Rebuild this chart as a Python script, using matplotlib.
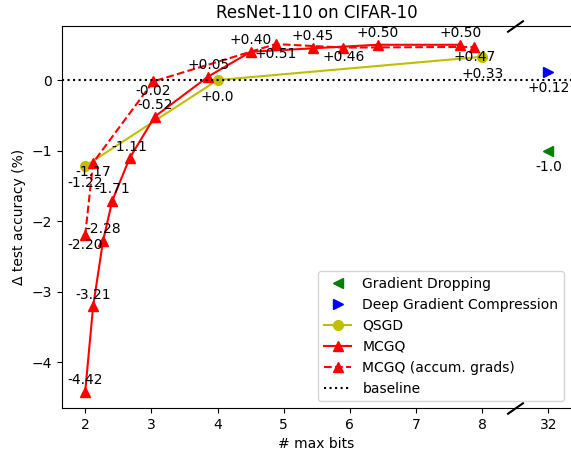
import matplotlib.pyplot as plt

# Data (x = max bits, y = change in test accuracy %)
gd_bits = [32]
gd_acc = [-1.0]
gd_labels = ['-1.0']

dgc_bits = [32]
dgc_acc = [0.12]
dgc_labels = ['+0.12']

qsgd_bits = [2, 4, 8]
qsgd_acc = [-1.22, 0.0, 0.33]
qsgd_labels = ['-1.22', '+0.0', '+0.33']

mcgq_bits = [2.0, 2.12, 2.27, 2.41, 2.67, 3.05, 3.86, 4.5, 5.44, 6.42, 7.67]
mcgq_acc = [-4.42, -3.21, -2.28, -1.71, -1.11, -0.52, 0.05, 0.40, 0.45, 0.50, 0.50]

mcgq_acc_bits = [2.0, 2.12, 3.03, 4.88, 5.9, 7.88]
mcgq_acc_acc = [-2.20, -1.17, -0.02, 0.51, 0.46, 0.47]

xtick_values = [2, 3, 4, 5, 6, 7, 8, 32]


def xpos(b):
    # broken axis: 32 bits is drawn one step after 8
    return 9 if b == 32 else b


def fmt(v):
    return '%+.2f' % v


fig = plt.figure(figsize=(5.71, 4.5), dpi=100)
ax = fig.add_axes([0.1086, 0.0933, 0.8914, 0.8489])

ax.plot([xpos(b) for b in gd_bits], gd_acc, 'g<', markersize=7, label='Gradient Dropping')
ax.plot([xpos(b) for b in dgc_bits], dgc_acc, 'b>', markersize=7, label='Deep Gradient Compression')
ax.plot(qsgd_bits, qsgd_acc, 'y-o', markersize=7, label='QSGD')
ax.plot(mcgq_bits, mcgq_acc, 'r-^', markersize=7, label='MCGQ')
ax.plot(mcgq_acc_bits, mcgq_acc_acc, 'r--^', markersize=7, label='MCGQ (accum. grads)')
ax.axhline(0, color='k', linestyle=':', label='baseline')

# value labels
for b, v, t in zip(gd_bits, gd_acc, gd_labels):
    ax.annotate(t, (xpos(b), v), xytext=(0, -12), textcoords='offset points',
                ha='center', va='center', fontsize=10)
for b, v, t in zip(dgc_bits, dgc_acc, dgc_labels):
    ax.annotate(t, (xpos(b), v), xytext=(0, -12), textcoords='offset points',
                ha='center', va='center', fontsize=10)
for b, v, t in zip(qsgd_bits, qsgd_acc, qsgd_labels):
    ax.annotate(t, (b, v), xytext=(0, -12.5), textcoords='offset points',
                ha='center', va='center', fontsize=10)
for b, v in zip(mcgq_bits, mcgq_acc):
    ax.annotate(fmt(v), (b, v), xytext=(0, 8.5), textcoords='offset points',
                ha='center', va='center', fontsize=10)
for b, v in zip(mcgq_acc_bits, mcgq_acc_acc):
    ax.annotate(fmt(v), (b, v), xytext=(0, -7), textcoords='offset points',
                ha='center', va='center', fontsize=10)

ax.set_xlim(1.65, 9.34)
ax.set_ylim(-4.65, 0.766)
ax.set_xticks([xpos(b) for b in xtick_values])
ax.set_xticklabels([str(b) for b in xtick_values])
ax.set_yticks([-4, -3, -2, -1, 0])
ax.spines['right'].set_visible(False)

# break marks between 8 and 32
ax.plot([8.5, 8.5], [0, 1], transform=ax.get_xaxis_transform(), linestyle='none',
        marker=[(-1, -0.7), (1, 0.7)], markersize=12, mec='k', mew=1.5, clip_on=False)

ax.set_title('ResNet-110 on CIFAR-10', fontsize=12)
ax.set_xlabel('# max bits')
ax.set_ylabel('Δ test accuracy (%)')
ax.legend(loc='lower right')

plt.savefig('out.png', dpi=100)
